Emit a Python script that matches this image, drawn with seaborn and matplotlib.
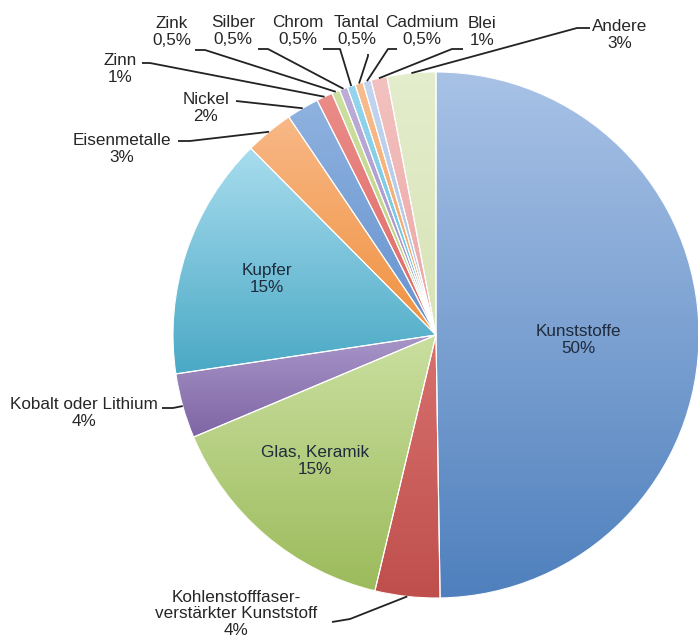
import matplotlib
matplotlib.use("Agg")
import matplotlib.pyplot as plt
import matplotlib.colors as mcolors
import seaborn as sns
import numpy as np

# ---- data ----
categories = ["Kunststoffe", "Kohlenstofffaser-\nverstärkter Kunststoff", "Glas, Keramik",
              "Kobalt oder Lithium", "Kupfer", "Eisenmetalle", "Nickel", "Zinn", "Zink",
              "Silber", "Chrom", "Tantal", "Cadmium", "Blei", "Andere"]
shares = [50, 4, 15, 4, 15, 3, 2, 1, 0.5, 0.5, 0.5, 0.5, 0.5, 1, 3]
share_labels = ["50%", "4%", "15%", "4%", "15%", "3%", "2%", "1%", "0,5%",
                "0,5%", "0,5%", "0,5%", "0,5%", "1%", "3%"]
colors = ["#86a8d8", "#d0524e", "#b9d27c", "#9e88c3", "#6fbfdd", "#f3a467", "#7aa2d8",
          "#e67b77", "#c4da8c", "#b3a2d2", "#7fcbe6", "#f5b077", "#b6cbea", "#efb4b2", "#dfe9c3"]
colors_top = ["#a8c2e6", "#d8716e", "#cadfa0", "#a896c8", "#a8dcee", "#f8b886", "#8fb2df",
              "#ea8c89", "#cde0a0", "#bcaed8", "#96d6ec", "#f8bd8c", "#c3d5ef", "#f3c2c0", "#e4edcc"]
colors_bottom = ["#4f80bd", "#bf4f4c", "#9cbb5b", "#7f65a5", "#4aa9c5", "#f0913f", "#6592cf",
                 "#df6865", "#b6d07a", "#a08dc5", "#62bedd", "#f3a060", "#a9c1e5", "#eba5a3", "#d7e3b6"]

# ---- layout (pixel coordinates, y downward) ----
inside_pos = {"Kunststoffe": (578, 340), "Kupfer": (267, 279), "Glas, Keramik": (315, 461)}
outside_pos = {
    "Kohlenstofffaser-\nverstärkter Kunststoff": ((236, 614), [(332, 622), (350, 619)]),
    "Kobalt oder Lithium": ((84, 413), [(162, 408), (173, 408)]),
    "Eisenmetalle": ((122, 149), [(178, 141), (190, 141)]),
    "Nickel": ((206, 108), [(236, 101)]),
    "Zinn": ((120, 69), [(142, 63), (150, 63)]),
    "Zink": ((172, 32), [(195, 50), (205, 50)]),
    "Silber": ((233, 31), [(258, 49), (268, 49)]),
    "Chrom": ((298, 31), [(323, 49), (340, 49)]),
    "Tantal": ((357, 31), [(368, 54), (368, 56)]),
    "Cadmium": ((422, 31), [(397, 49), (388, 49)]),
    "Blei": ((482, 32), [(463, 49), (452, 49)]),
    "Andere": ((620, 35), [(590, 28), (577, 28)]),
}

sns.set_theme(style="white")
plt.rcParams['font.family'] = ['Liberation Sans', 'DejaVu Sans']

W, H = 698, 637
fig = plt.figure(figsize=(W / 100, H / 100), dpi=100)
ax = fig.add_axes([0, 0, 1, 1])
cx, cy, R = 436, 335, 263
wedges, _ = ax.pie(shares, colors=colors, startangle=-90, counterclock=True,
                   center=(cx, cy), radius=R,
                   wedgeprops=dict(edgecolor="none", linewidth=0))

# vertical gradient fill of each wedge (light at top, darker at bottom)
for w, ct, cb in zip(wedges, colors_top, colors_bottom):
    v = w.get_path().vertices
    x0, x1 = v[:, 0].min(), v[:, 0].max()
    y0, y1 = v[:, 1].min(), v[:, 1].max()
    t = np.linspace(0, 1, 128)[:, None]
    c0 = np.array(mcolors.to_rgb(ct))
    c1 = np.array(mcolors.to_rgb(cb))
    grad = (c0[None, :] * (1 - t) + c1[None, :] * t)[:, None, :]
    im = ax.imshow(grad, extent=(x0, x1, y1, y0), origin="upper", aspect="auto",
                   interpolation="bilinear", zorder=1.5)
    im.set_clip_path(w)

# white separators on top
ax.pie(shares, startangle=-90, counterclock=True, center=(cx, cy), radius=R,
       wedgeprops=dict(fill=False, edgecolor="white", linewidth=0.8, zorder=2))

ax.set_xlim(0, W)
ax.set_ylim(H, 0)
ax.set_aspect("equal")
ax.axis("off")

fs = 12.3
for w, name, pct in zip(wedges, categories, share_labels):
    txt = f"{name}\n{pct}"
    if name in inside_pos:
        x, y = inside_pos[name]
        ax.text(x, y, txt, ha="center", va="center", fontsize=fs, color="#1f2a3c",
                linespacing=1.15, zorder=5)
    else:
        (x, y), pts = outside_pos[name]
        ax.text(x, y, txt, ha="center", va="center", fontsize=fs, color="#262626",
                linespacing=1.15, zorder=5)
        th = np.deg2rad((w.theta1 + w.theta2) / 2)
        end = (cx + R * np.cos(th), cy + R * np.sin(th))
        xs = [p[0] for p in pts] + [end[0]]
        ys = [p[1] for p in pts] + [end[1]]
        ax.plot(xs, ys, color="#222222", lw=1.3, solid_capstyle="butt", zorder=5)

fig.savefig("out.png", dpi=100, facecolor="white")
